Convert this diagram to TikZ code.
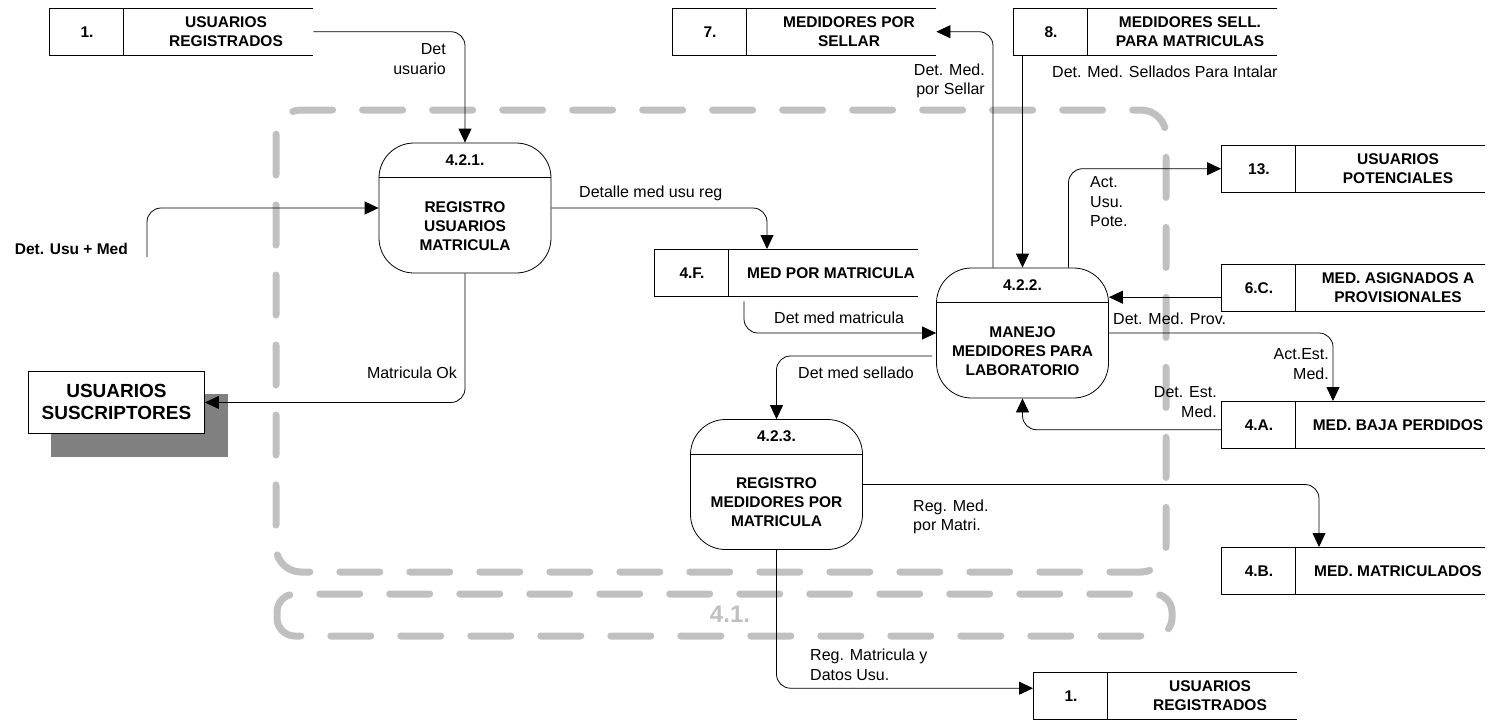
\documentclass[tikz,border=0pt]{standalone}
\usepackage{fontspec}
\setmainfont{Liberation Sans}
\usetikzlibrary{arrows.meta,calc}
\definecolor{bcol}{HTML}{C0C0C0}
\definecolor{shadowgray}{HTML}{808080}
\tikzset{
 flow/.style={draw=black, line width=0.8pt, rounded corners=14pt, -{Triangle[length=14pt,width=13pt]}},
 lbl/.style={font=\fontsize{16}{19.5}\selectfont, inner sep=0pt, align=left},
 lblr/.style={font=\fontsize{16}{19.5}\selectfont, inner sep=0pt, align=right},
 boldtxt/.style={font=\fontsize{15.5}{19}\selectfont\bfseries, inner sep=0pt, align=center},
 proc/.style={draw=black, line width=0.8pt, rounded corners=35pt, minimum width=172pt, minimum height=130pt, inner sep=0pt},
 storebox/.style={minimum width=264pt, minimum height=47pt, inner sep=0pt},
 storeline/.style={draw=black, line width=0.9pt},
 boundary/.style={draw=bcol, line width=7pt, line cap=round, dash pattern=on 40pt off 30pt},
}
\newcommand\dfdstore[5]{%
 \node[storebox, anchor=north west] (#1) at (#2,#3) {};
 \draw[storeline] (#1.north east) -- (#1.north west) -- (#1.south west) -- (#1.south east);
 \draw[storeline] ([xshift=74pt]#1.north west) -- ([xshift=74pt]#1.south west);
 \node[boldtxt] (#1n) at ([xshift=38pt]#1.west) {#4};
 \node[boldtxt] (#1t) at ([xshift=177pt]#1.west) {#5};
}
\newcommand\dfdproc[5]{%
 \node[proc] (#1) at (#2,#3) {};
 \draw[line width=0.8pt] ([yshift=-35pt]#1.north west) -- ([yshift=-35pt]#1.north east);
 \node[boldtxt] (#1n) at ([yshift=-17pt]#1.north) {#4};
 \node[boldtxt] (#1b) at ([yshift=47.5pt]#1.south) {#5};
}
\begin{document}
\begin{tikzpicture}[x=1pt,y=-1pt]
\useasboundingbox (0,0) rectangle (1505,721);
% boundary 4.1.
\draw[boundary, rounded corners=25pt] (276,110) rectangle (1166,572);
\draw[boundary, rounded corners=18pt] (277,594) rectangle (1172,636);
\node[font=\fontsize{24}{24}\selectfont\bfseries, text=bcol, inner sep=0pt] (b41) at (730,614) {4.1.};

% stores
\dfdstore{s1}{49}{8}{1.}{USUARIOS\\REGISTRADOS}
\dfdstore{s7}{672}{8}{7.}{MEDIDORES POR\\SELLAR}
\dfdstore{s8}{1013}{8}{8.}{MEDIDORES SELL.\\PARA MATRICULAS}
\dfdstore{s13}{1221}{145}{13.}{USUARIOS\\POTENCIALES}
\dfdstore{s4f}{654}{249}{4.F.}{MED POR MATRICULA}
\dfdstore{s6c}{1221}{264}{6.C.}{MED. ASIGNADOS A\\PROVISIONALES}
\dfdstore{s4a}{1221}{401}{4.A.}{MED. BAJA PERDIDOS}
\dfdstore{s4b}{1221}{547}{4.B.}{MED. MATRICULADOS}
\dfdstore{s1b}{1033}{672}{1.}{USUARIOS\\REGISTRADOS}

% processes
\dfdproc{p421}{465}{208}{4.2.1.}{REGISTRO\\USUARIOS\\MATRICULA}
\dfdproc{p422}{1022.5}{333}{4.2.2.}{MANEJO\\MEDIDORES PARA\\LABORATORIO}
\dfdproc{p423}{776.5}{484.5}{4.2.3.}{REGISTRO\\MEDIDORES POR\\MATRICULA}

% external entity
\node[fill=shadowgray, minimum width=177pt, minimum height=63pt, anchor=north west, inner sep=0pt] (entsh) at (51,394) {};
\node[draw=black, line width=0.9pt, fill=white, minimum width=176pt, minimum height=62pt, anchor=north west, inner sep=0pt, align=center, font=\fontsize{19}{22}\selectfont\bfseries] (ent) at (28,371) {USUARIOS\\SUSCRIPTORES};

% connectors
\draw[flow] (s1.east) -| (p421.north);
\coordinate (usumed) at (147,257);
\node[boldtxt, anchor=east] (lusumed) at (128,249) {Det. Usu + Med};
\draw[flow] (usumed) |- (p421.west);
\draw[flow] (p421.east) -| ([xshift=113pt]s4f.north west);
\draw[flow] (p421.south) |- (ent.east);
\draw[flow] ([xshift=90pt,yshift=-5pt]s4f.south west) |- (p422.west);
\draw[flow] ([xshift=-4pt,yshift=-23pt]p422.west) -| (p423.north);
\draw[flow] ([xshift=-29.5pt]p422.north) |- (s7.east);
\draw[flow] (s8.south west -| p422.north) -- (p422.north);
\draw[flow] ([xshift=46pt]p422.north) |- (s13.west);
\coordinate (c10s) at ([yshift=-9.5pt]s6c.west);
\draw[flow] (c10s) -- (c10s -| p422.east);
\draw[flow] (p422.east) -| ([xshift=112pt]s4a.north west);
\coordinate (c12s) at ([yshift=-5pt]s4a.west);
\draw[flow] (c12s) -| (p422.south);
\draw[flow] (p423.east) -| ([xshift=98pt]s4b.north west);
\coordinate (c14e) at ([yshift=7.5pt]s1b.west);
\draw[flow] (p423.south) |- (c14e);

% labels
\node[lblr, anchor=east] (l1) at (446,59) {Det\\usuario};
\node[lbl, anchor=west] (l2) at (579,193) {Detalle med usu reg};
\node[lbl, anchor=east] (l3) at (457,373) {Matricula Ok};
\node[lbl, anchor=west] (l4) at (774,318) {Det med matricula};
\node[lbl, anchor=west] (l5) at (798,373) {Det med sellado};
\node[lblr, anchor=east] (l6) at (985,81) {Det. Med.\\por Sellar};
\node[lbl, anchor=west] (l7) at (1052,72) {Det. Med. Sellados Para Intalar};
\node[lbl, anchor=west] (l8) at (1090,202) {Act.\\Usu.\\Pote.};
\node[lbl, anchor=west] (l9) at (1113,319) {Det. Med. Prov.};
\node[lblr, anchor=east] (l10) at (1329,364) {Act.Est.\\Med.};
\node[lblr, anchor=east] (l11) at (1217,402) {Det. Est.\\Med.};
\node[lbl, anchor=west] (l12) at (913,517) {Reg. Med.\\por Matri.};
\node[lbl, anchor=west] (l13) at (810,665) {Reg. Matricula y\\Datos Usu.};
\end{tikzpicture}
\end{document}
